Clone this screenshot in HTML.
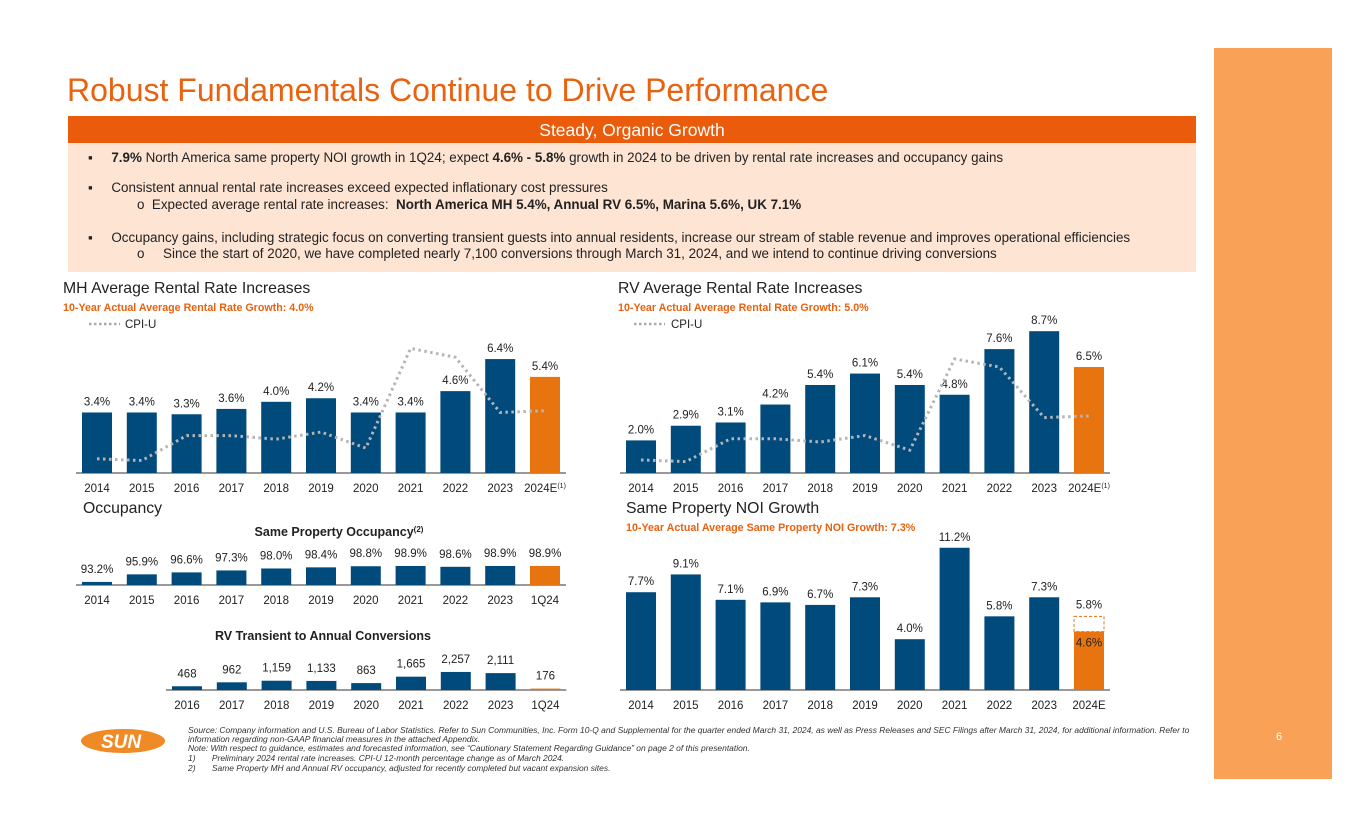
<!DOCTYPE html>
<html><head><meta charset="utf-8">
<style>
body{margin:0;width:1365px;height:829px;background:#fff;position:relative;overflow:hidden;font-family:"Liberation Sans",sans-serif;}
.abs{position:absolute;}
#title{left:67px;top:72px;font-size:32px;color:#E8620F;white-space:nowrap;}
#hdr{left:68px;top:116px;width:1128px;height:27px;background:#EA5B0C;color:#fff;font-size:17.5px;text-align:center;line-height:29px;}
#box{left:68px;top:143px;width:1128px;height:129px;background:#FDE4D3;}
.ln{position:absolute;font-size:13.4px;color:#222;white-space:nowrap;}
#side{left:1214px;top:48px;width:118px;height:731px;background:#F9A257;}
#pg{left:1276px;top:731px;color:#fff;font-size:11px;}
.foot{position:absolute;left:188px;font-size:8.45px;font-style:italic;color:#333;white-space:nowrap;}
</style></head><body>
<div class="abs" id="side"></div>
<div class="abs" id="pg">6</div>
<div class="abs" id="title">Robust Fundamentals Continue to Drive Performance</div>
<div class="abs" id="hdr">Steady, Organic Growth</div>
<div class="abs" id="box"></div>
<div class="ln" style="left:88px;top:150px">▪&nbsp;&nbsp;&nbsp;&nbsp;&nbsp;<b>7.9%</b> North America same property NOI growth in 1Q24; expect <b>4.6% - 5.8%</b> growth in 2024 to be driven by rental rate increases and occupancy gains</div>
<div class="ln" style="left:88px;top:180px">▪&nbsp;&nbsp;&nbsp;&nbsp;&nbsp;Consistent annual rental rate increases exceed expected inflationary cost pressures</div>
<div class="ln" style="left:137px;top:197px">o&nbsp;&nbsp;Expected average rental rate increases:&nbsp; <b>North America MH 5.4%, Annual RV 6.5%, Marina 5.6%, UK 7.1%</b></div>
<div class="ln" style="left:88px;top:230px">▪&nbsp;&nbsp;&nbsp;&nbsp;&nbsp;Occupancy gains, including strategic focus on converting transient guests into annual residents, increase our stream of stable revenue and improves operational efficiencies</div>
<div class="ln" style="left:137px;top:246px">o&nbsp;&nbsp;&nbsp;&nbsp;&nbsp;Since the start of 2020, we have completed nearly 7,100 conversions through March 31, 2024, and we intend to continue driving conversions</div>

<svg class="abs" style="left:0;top:0" width="1365" height="829" id="chart" font-family="Liberation Sans, sans-serif">
<text x="63" y="293" font-size="15.8" fill="#222">MH Average Rental Rate Increases</text>
<text x="63" y="311" font-size="10.7" font-weight="bold" fill="#E8620F">10-Year Actual Average Rental Rate Growth: 4.0%</text>
<line x1="89" y1="324" x2="120" y2="324" stroke="#aaa" stroke-width="2.5" stroke-dasharray="2.5 2.5"/>
<text x="125" y="328" font-size="11.5" fill="#222">CPI-U</text>
<text x="618" y="293" font-size="15.8" fill="#222">RV Average Rental Rate Increases</text>
<text x="618" y="311" font-size="10.7" font-weight="bold" fill="#E8620F">10-Year Actual Average Rental Rate Growth: 5.0%</text>
<line x1="634" y1="324" x2="665" y2="324" stroke="#aaa" stroke-width="2.5" stroke-dasharray="2.5 2.5"/>
<text x="671" y="328" font-size="11.5" fill="#222">CPI-U</text>
<text x="83" y="513" font-size="15.8" fill="#222">Occupancy</text>
<text x="339" y="536" font-size="12.5" font-weight="bold" fill="#222" text-anchor="middle">Same Property Occupancy<tspan font-size="8" dy="-4">(2)</tspan></text>
<text x="323" y="640" font-size="12.5" font-weight="bold" fill="#222" text-anchor="middle">RV Transient to Annual Conversions</text>
<text x="626" y="513" font-size="15.8" fill="#222">Same Property NOI Growth</text>
<text x="626" y="531" font-size="10.7" font-weight="bold" fill="#E8620F">10-Year Actual Average Same Property NOI Growth: 7.3%</text>
<g id="g"></g>
<ellipse cx="123" cy="741" rx="42" ry="12" fill="#F08A24"/>
<text x="121" y="748" font-size="19" font-weight="bold" font-style="italic" fill="#fff" text-anchor="middle">SUN</text>
</svg>
<div class="foot" style="top:725px">Source: Company information and U.S. Bureau of Labor Statistics. Refer to Sun Communities, Inc. Form 10-Q and Supplemental for the quarter ended March 31, 2024, as well as Press Releases and SEC Filings after March 31, 2024, for additional information. Refer to</div>
<div class="foot" style="top:734px">information regarding non-GAAP financial measures in the attached Appendix.</div>
<div class="foot" style="top:743px">Note: With respect to guidance, estimates and forecasted information, see “Cautionary Statement Regarding Guidance” on page 2 of this presentation.</div>
<div class="foot" style="top:753px">1)&nbsp;&nbsp;&nbsp;&nbsp;&nbsp;&nbsp;&nbsp;Preliminary 2024 rental rate increases. CPI-U 12-month percentage change as of March 2024.</div>
<div class="foot" style="top:763px">2)&nbsp;&nbsp;&nbsp;&nbsp;&nbsp;&nbsp;&nbsp;Same Property MH and Annual RV occupancy, adjusted for recently completed but vacant expansion sites.</div>
<script>
const years = ["2014","2015","2016","2017","2018","2019","2020","2021","2022","2023","2024E"];
const mhRates = [3.4,3.4,3.3,3.6,4.0,4.2,3.4,3.4,4.6,6.4,5.4];
const rvRates = [2.0,2.9,3.1,4.2,5.4,6.1,5.4,4.8,7.6,8.7,6.5];
const cpiU = [0.8,0.7,2.1,2.1,1.9,2.3,1.4,7.0,6.5,3.4,3.5];
const occYears = ["2014","2015","2016","2017","2018","2019","2020","2021","2022","2023","1Q24"];
const occupancy = [93.2,95.9,96.6,97.3,98.0,98.4,98.8,98.9,98.6,98.9,98.9];
const convYears = ["2016","2017","2018","2019","2020","2021","2022","2023","1Q24"];
const conversions = [468,962,1159,1133,863,1665,2257,2111,176];
const noiGrowth = [7.7,9.1,7.1,6.9,6.7,7.3,4.0,11.2,5.8,7.3,4.6];
const noiHigh = 5.8;

const NS="http://www.w3.org/2000/svg", G=document.getElementById('g');
const BLUE="#004A7C", ORANGE="#E8740F";
function mk(t,a,txt){const e=document.createElementNS(NS,t);for(const k in a)e.setAttribute(k,a[k]);if(txt!==undefined)e.textContent=txt;G.appendChild(e);return e;}
function chart(o){
  const xs=i=>o.x0+i*o.pitch, ys=v=>o.base-o.h(v);
  mk('line',{x1:o.x0-6,x2:xs(o.vals.length-1)+o.bw+6,y1:o.base,y2:o.base,stroke:'#333','stroke-width':1});
  o.vals.forEach((v,i)=>{
    const last=i===o.vals.length-1;
    const r=mk('rect',{x:xs(i),y:ys(v),width:o.bw,height:o.h(v),fill:last?ORANGE:BLUE});
    
    
    if(!o.noLabel||!last){
      const t=mk('text',{x:xs(i)+o.bw/2,y:ys(v)-(o.lblOff||7),'font-size':11.5,fill:'#222','text-anchor':'middle'},o.fmt(v));
      
      
    }
    const c=mk('text',{x:xs(i)+o.bw/2,y:o.base+19,'font-size':11.5,fill:'#222','text-anchor':'middle'},o.cats[i].replace('E',''));
    if(o.cats[i].endsWith('E')){const ts=document.createElementNS(NS,'tspan');ts.textContent='E';c.appendChild(ts);
      if(o.sup){const s=document.createElementNS(NS,'tspan');s.setAttribute('font-size','7');s.setAttribute('dy','-4');s.textContent='(1)';c.appendChild(s);}}
    
    
  });
  if(o.line){
    const pts=o.line.map((v,i)=>(xs(i)+o.bw/2)+','+ys(v)).join(' ');
    const p=mk('polyline',{points:pts,fill:'none',stroke:'#B5B5B5','stroke-width':3,'stroke-dasharray':'2.5 3.5'});
    
    
  }
  return {xs,ys};
}
const pct=v=>v.toFixed(1)+'%';
chart({name:'mh',x0:82,pitch:44.8,bw:30,base:473,h:v=>v*17.8,vals:mhRates,cats:years,fmt:pct,line:cpiU,sup:true});
chart({name:'rv',x0:626,pitch:44.8,bw:30,base:473,h:v=>v*16.3,vals:rvRates,cats:years,fmt:pct,line:cpiU,sup:true});
chart({name:'occupancy',x0:82,pitch:44.8,bw:30,base:585,h:v=>(v-92.1)*2.8,vals:occupancy,cats:occYears,fmt:pct,lblOff:9});
chart({name:'conversions',x0:172,pitch:44.8,bw:30,base:690,h:v=>v*0.008,vals:conversions,cats:convYears,fmt:v=>v.toLocaleString('en-US'),lblOff:9});
const n=chart({name:'noi',x0:626,pitch:44.8,bw:30,base:690,h:v=>v*12.7,vals:noiGrowth,cats:years,fmt:pct,noLabel:true});
const li=noiGrowth.length-1, lx=n.xs(li);
const db=mk('rect',{x:lx,y:n.ys(noiHigh),width:30,height:n.ys(noiGrowth[li])-n.ys(noiHigh),fill:'none',stroke:ORANGE,'stroke-dasharray':'3 2','stroke-width':1});


const th=mk('text',{x:lx+15,y:n.ys(noiHigh)-8,'font-size':11.5,fill:'#222','text-anchor':'middle'},pct(noiHigh));


const tl=mk('text',{x:lx+15,y:n.ys(noiGrowth[li])+15,'font-size':11.5,fill:'#222','text-anchor':'middle'},pct(noiGrowth[li]));


</script>
</body></html>
